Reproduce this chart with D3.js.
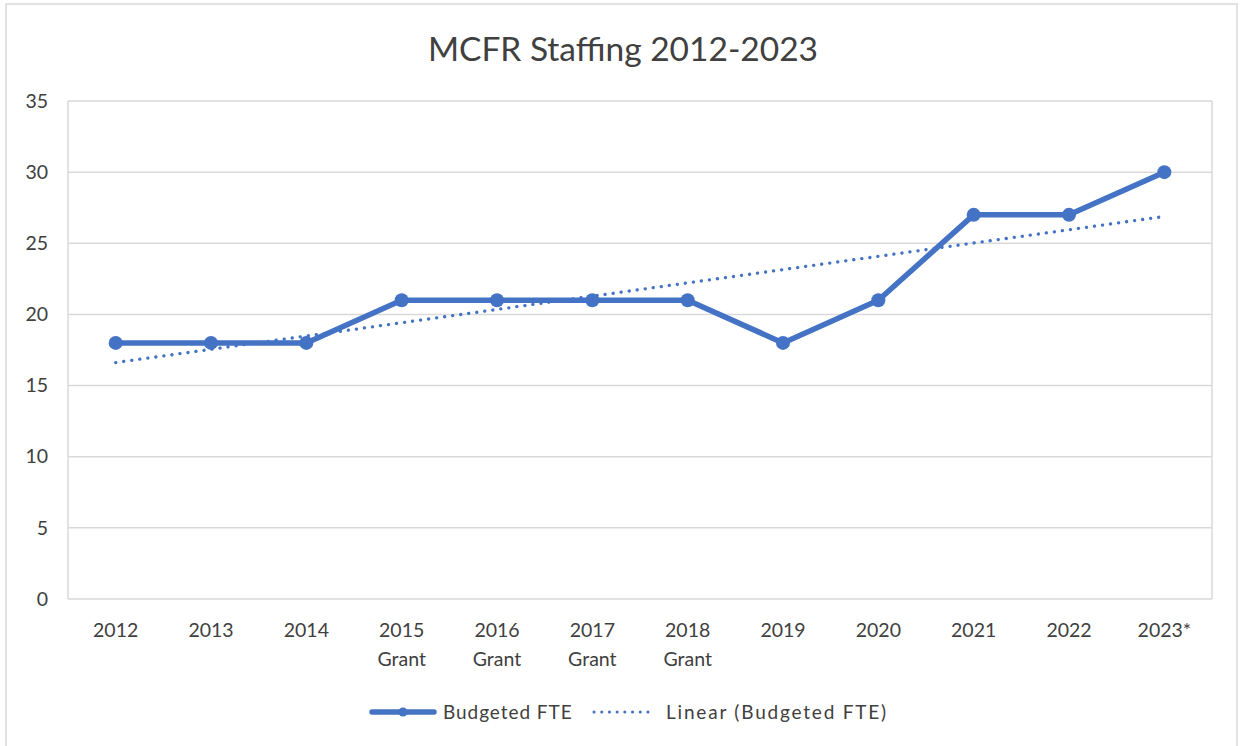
<!DOCTYPE html>
<html><head><meta charset="utf-8">
<script src="https://cdn.jsdelivr.net/npm/d3@7"></script>
<style>body{margin:0;background:#fff;} svg{display:block;} text{font-family:Lato,"Open Sans",sans-serif;fill:#404040;}</style>
</head><body>
<svg id="c" width="1240" height="746"></svg>
<script>
const categories = ["2012","2013","2014","2015\nGrant","2016\nGrant","2017\nGrant","2018\nGrant","2019","2020","2021","2022","2023*"];
const budgetedFTE = [18,18,18,21,21,21,21,18,21,27,27,30];
const yTicks = [0,5,10,15,20,25,30,35];
const title = "MCFR Staffing 2012-2023";
const legendLabels = ["Budgeted FTE","Linear (Budgeted FTE)"];

const color = "#4472C4";
const svg = d3.select("#c");
svg.append("rect").attr("x",6).attr("y",4).attr("width",1231).attr("height",760)
  .attr("fill","#fff").attr("stroke","#d9d9d9").attr("stroke-width",1.5);

const L=68,R=1212,T=101,B=599;
const x = d3.scaleBand().domain(categories).range([L,R]);
const y = d3.scaleLinear().domain([0,35]).range([B,T]);

svg.append("text").attr("x",623).attr("y",61).attr("text-anchor","middle")
  .style("font-size","33.5px").text(title);

// gridlines
svg.append("g").selectAll("line").data(yTicks).join("line")
  .attr("x1",L).attr("x2",R).attr("y1",d=>y(d)).attr("y2",d=>y(d))
  .attr("stroke","#d9d9d9").attr("stroke-width",1.5);
svg.append("line").attr("x1",L).attr("x2",L).attr("y1",T).attr("y2",B).attr("stroke","#d9d9d9").attr("stroke-width",1.5);
svg.append("line").attr("x1",R).attr("x2",R).attr("y1",T).attr("y2",B).attr("stroke","#d9d9d9").attr("stroke-width",1.5);

// y axis
const ya = svg.append("g").attr("transform",`translate(${L},0)`)
  .call(d3.axisLeft(y).tickValues(yTicks).tickSize(0).tickPadding(20));
ya.select(".domain").remove();
ya.selectAll("text").style("font-size","19.5px").attr("fill","#404040").style("font-family","Lato,sans-serif");

// x axis
const xa = svg.append("g").attr("transform",`translate(0,${B})`)
  .call(d3.axisBottom(x).tickSize(0).tickPadding(0).tickFormat(""));
xa.select(".domain").remove();
xa.selectAll(".tick").each(function(d){
  const lines = d.split("\n");
  const t = d3.select(this).append("text").attr("text-anchor","middle")
    .style("font-size","19.5px").attr("fill","#404040");
  lines.forEach((s,i)=>t.append("tspan").attr("x",0).attr("y",38+i*29).text(s));
});

const cx = i => x(categories[i]) + x.bandwidth()/2;

// linear trend (least squares on data)
const n = budgetedFTE.length;
const xs = d3.range(1,n+1);
const mx = d3.mean(xs), my = d3.mean(budgetedFTE);
const slope = d3.sum(xs,(v,i)=>(v-mx)*(budgetedFTE[i]-my))/d3.sum(xs,v=>(v-mx)*(v-mx));
const icpt = my - slope*mx;
svg.append("line").attr("x1",cx(0)).attr("x2",cx(n-1))
  .attr("y1",y(icpt+slope*1)).attr("y2",y(icpt+slope*n))
  .attr("stroke",color).attr("stroke-width",3.3).attr("stroke-linecap","round")
  .attr("stroke-dasharray","0.1 8");

const line = d3.line().x((d,i)=>cx(i)).y(d=>y(d));
svg.append("path").datum(budgetedFTE).attr("d",line).attr("fill","none")
  .attr("stroke",color).attr("stroke-width",5.5).attr("stroke-linejoin","round");
svg.append("g").selectAll("circle").data(budgetedFTE).join("circle")
  .attr("cx",(d,i)=>cx(i)).attr("cy",d=>y(d)).attr("r",7).attr("fill",color);

// legend
const ly = 712;
svg.append("line").attr("x1",372).attr("x2",434).attr("y1",ly).attr("y2",ly)
  .attr("stroke",color).attr("stroke-width",5.5).attr("stroke-linecap","round");
svg.append("circle").attr("cx",403).attr("cy",ly).attr("r",4.5).attr("fill",color);
svg.append("text").attr("x",443).attr("y",ly+7).style("font-size","19px").style("letter-spacing","0.95px").text(legendLabels[0]);
svg.append("line").attr("x1",594).attr("x2",655).attr("y1",ly).attr("y2",ly)
  .attr("stroke",color).attr("stroke-width",3).attr("stroke-linecap","round")
  .attr("stroke-dasharray","0.1 7.6");
svg.append("text").attr("x",666).attr("y",ly+7).style("font-size","19px").style("letter-spacing","1.8px").text(legendLabels[1]);
</script>
</body></html>
